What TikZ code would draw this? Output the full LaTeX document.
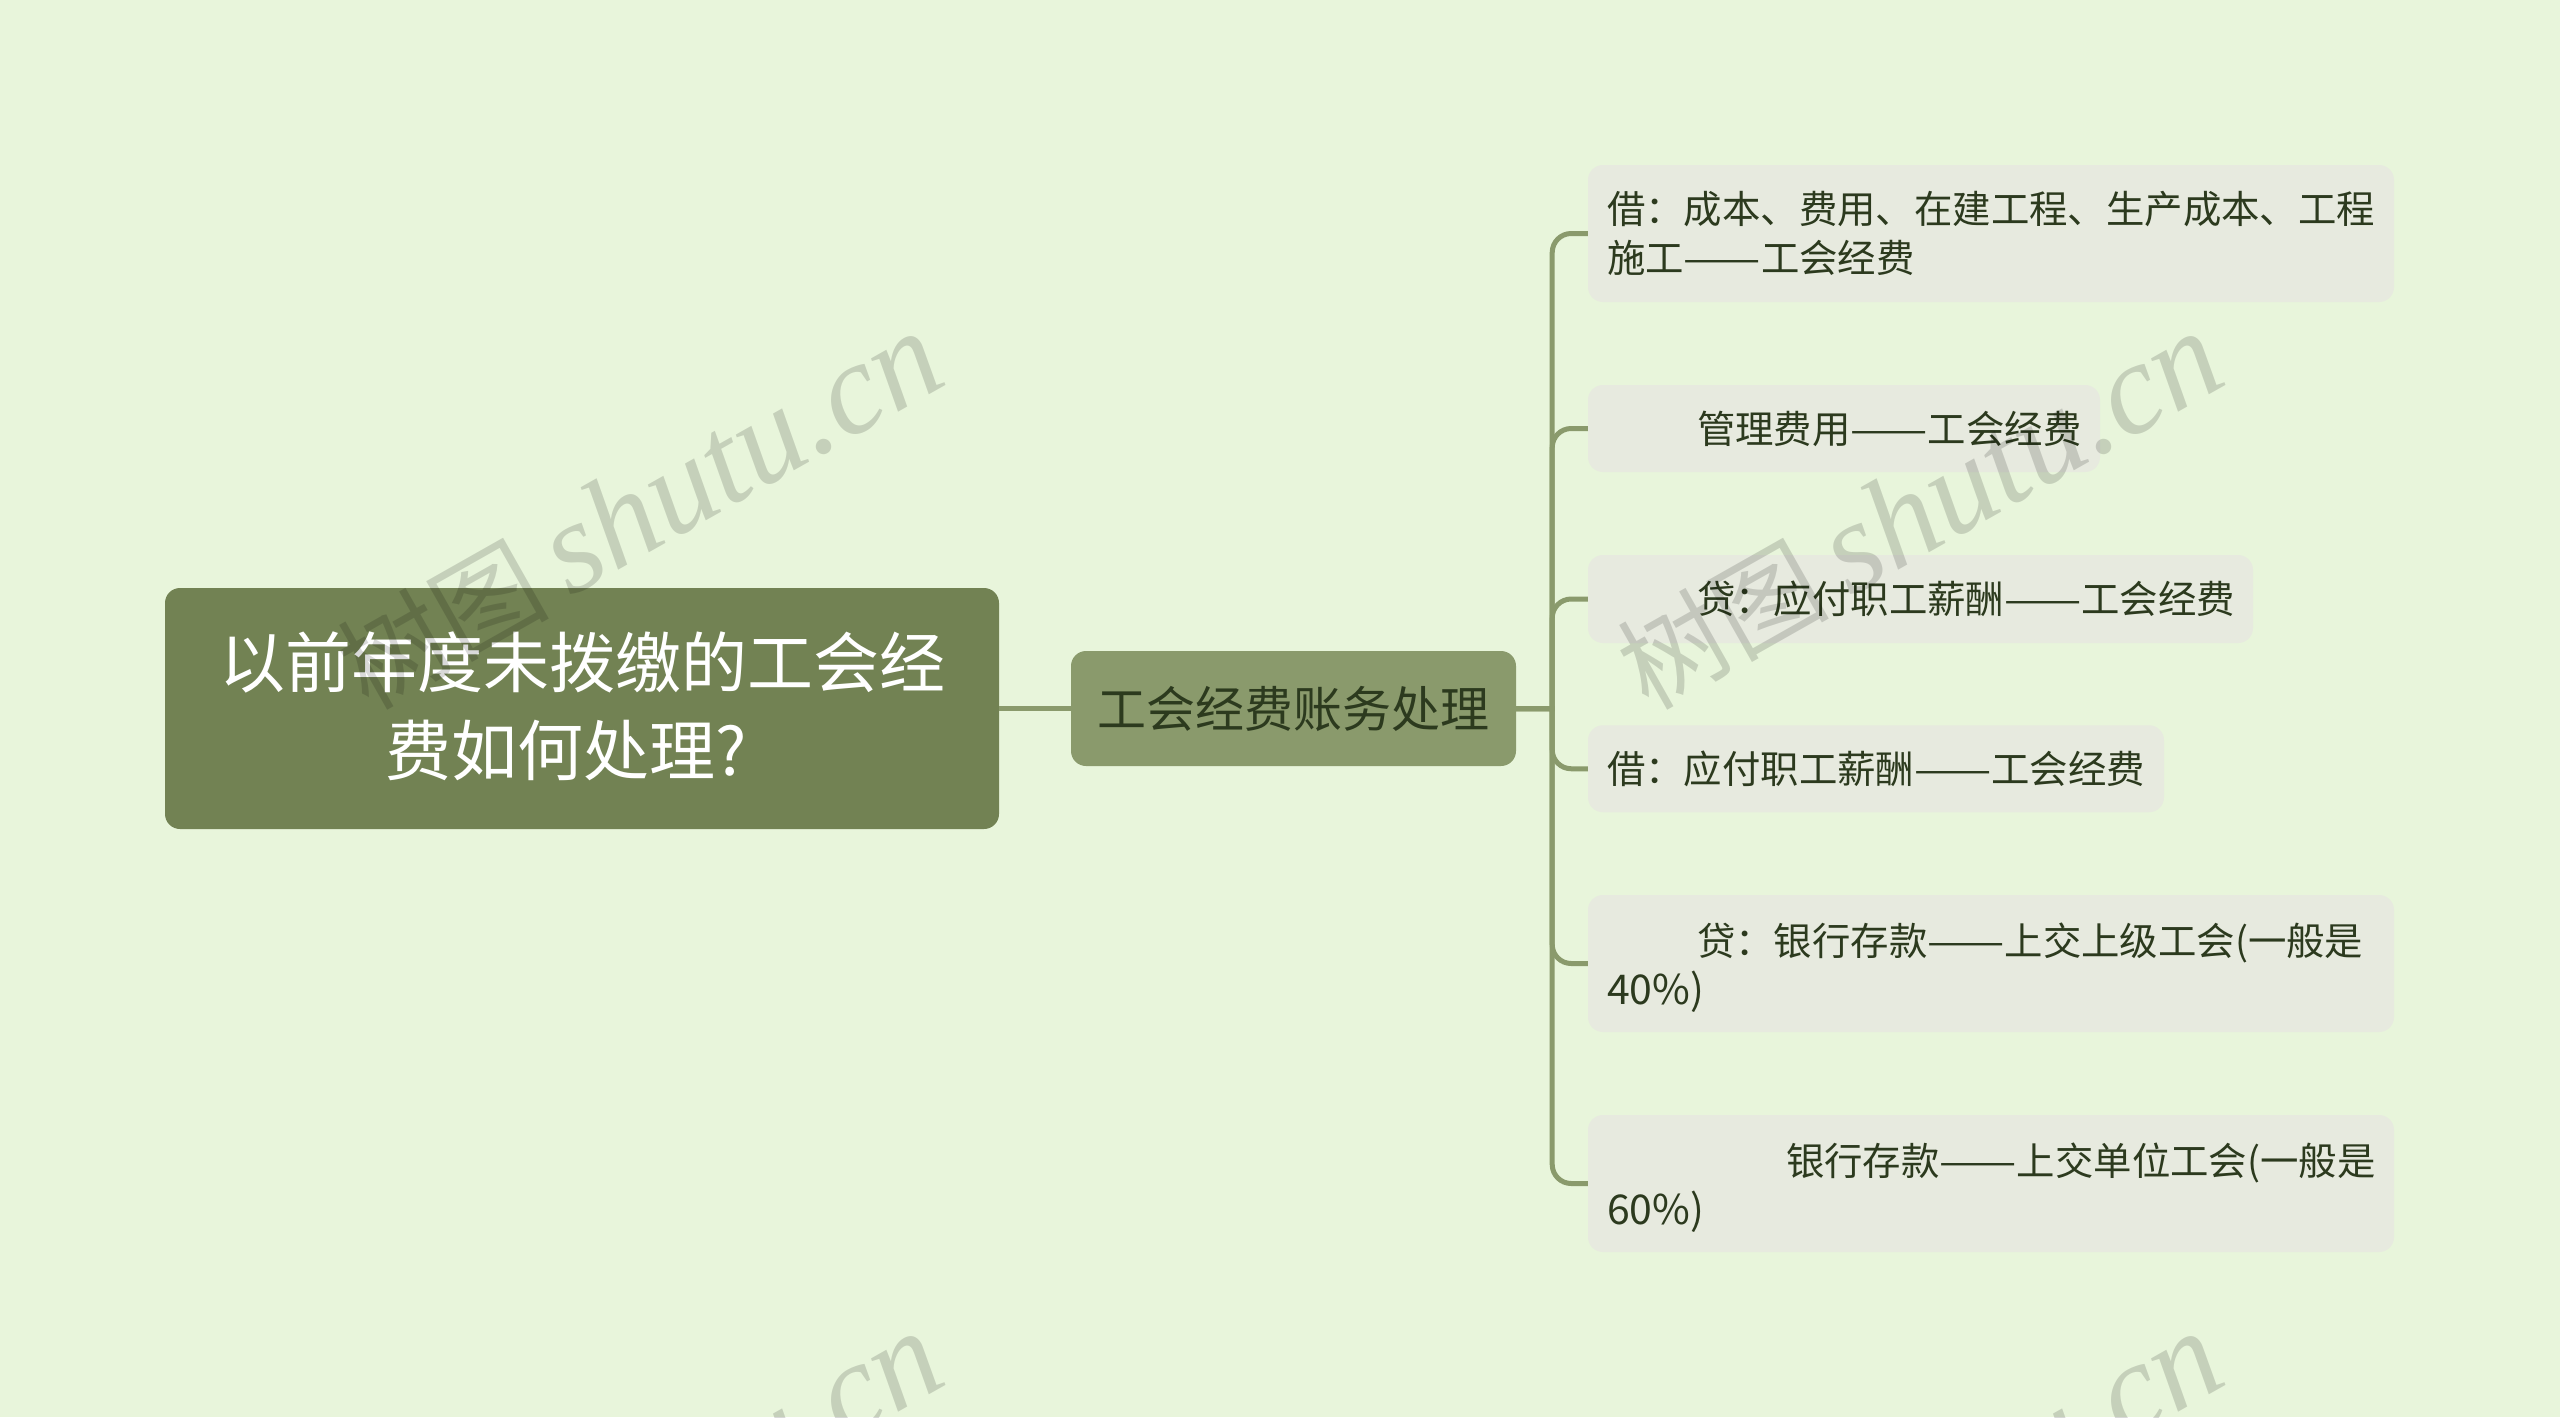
\documentclass[tikz,border=0pt]{standalone}
\usepackage{fontspec}
\setmainfont{Noto Sans CJK SC}
\newfontfamily\wmlatin{Liberation Serif}
\usetikzlibrary{calc}
\definecolor{bgc}{HTML}{E8F5DB}
\definecolor{rootc}{HTML}{728253}
\definecolor{branchc}{HTML}{8A9A6C}
\definecolor{leafc}{HTML}{E7EADF}
\definecolor{inkc}{HTML}{2C3A1E}
\tikzset{
  rootbox/.style={fill=rootc,rounded corners=15pt,text=white,align=center,inner sep=0pt,minimum width=834pt,minimum height=241pt,font=\fontsize{66}{88}\selectfont},
  branchbox/.style={fill=branchc,rounded corners=15pt,text=inkc,align=center,inner sep=0pt,minimum width=445pt,minimum height=115pt,font=\fontsize{49}{60}\selectfont},
  leafbox/.style={fill=leafc,rounded corners=15pt,text=inkc,align=left,inner ysep=0pt,inner xsep=19pt,font=\fontsize{38.4}{49}\selectfont},
  link/.style={draw=branchc,line width=5pt},
  wmark/.style={text=black,text opacity=0.15,rotate=29.5,anchor=base east,inner sep=0pt}
}
\newcommand{\wmtext}{{\fontsize{106}{106}\selectfont 树图}\hspace{20pt}{\wmlatin\itshape\fontsize{130}{130}\selectfont shutu.cn}}
\newcommand{\ldash}{\scalebox{1.2}[1]{——}}
\newcommand{\lat}[1]{\smash{\fontsize{41}{49}\selectfont #1}}
\begin{document}
\begin{tikzpicture}[x=1pt,y=-1pt]
\useasboundingbox (0,0) rectangle (2560,1417);
\fill[bgc] (0,0) rectangle (2560,1417);
\node[rootbox] (root) at (582,708.5) {以前年度未拨缴的工会经\\费如何处理?\hspace*{32pt}\rule[-9pt]{0pt}{1pt}};
\node[branchbox] (branch) at (1293.5,708.5) {工会经费账务处理};
\node[leafbox,text width=768pt,minimum height=137pt] (l1) at (1991,233.5) {借：成本、费用、在建工程、生产成本、工程\\施工\ldash 工会经费};
\node[leafbox,text width=474pt,minimum height=87pt] (l2) at (1844,428.5) {\hspace*{90pt}管理费用\ldash 工会经费};
\node[leafbox,text width=627pt,minimum height=88pt] (l3) at (1920.5,599) {\hspace*{90pt}贷：应付职工薪酬\ldash 工会经费};
\node[leafbox,text width=538pt,minimum height=87pt] (l4) at (1876,768.75) {借：应付职工薪酬\ldash 工会经费};
\node[leafbox,text width=768pt,minimum height=137pt] (l5) at (1991,963.5) {\hspace*{90pt}贷：银行存款\ldash 上交上级工会(一般是\\\lat{40\%)}};
\node[leafbox,text width=768pt,minimum height=137pt] (l6) at (1991,1183.5) {\hspace*{179pt}银行存款\ldash 上交单位工会(一般是\\\lat{60\%)}};
\coordinate (spine) at ($(branch.east)+(36,0)$);
\draw[link] (root.east) -- (branch.west);
\draw[link] (branch.east) -- (spine) [rounded corners=19pt] |- (l1.west);
\draw[link] (branch.east) -- (spine) [rounded corners=19pt] |- (l2.west);
\draw[link] (branch.east) -- (spine) [rounded corners=19pt] |- (l3.west);
\draw[link] (branch.east) -- (spine) [rounded corners=19pt] |- (l4.west);
\draw[link] (branch.east) -- (spine) [rounded corners=19pt] |- (l5.west);
\draw[link] (branch.east) -- (spine) [rounded corners=19pt] |- (l6.west);
\begin{scope}
\clip (0,0) rectangle (2560,1417);
\node[wmark] (w1) at (951,382) {\wmtext};
\node[wmark] (w2) at (2231,382) {\wmtext};
\node[wmark] (w3) at (951,1382) {\wmtext};
\node[wmark] (w4) at (2231,1382) {\wmtext};
\end{scope}
\end{tikzpicture}
\end{document}
